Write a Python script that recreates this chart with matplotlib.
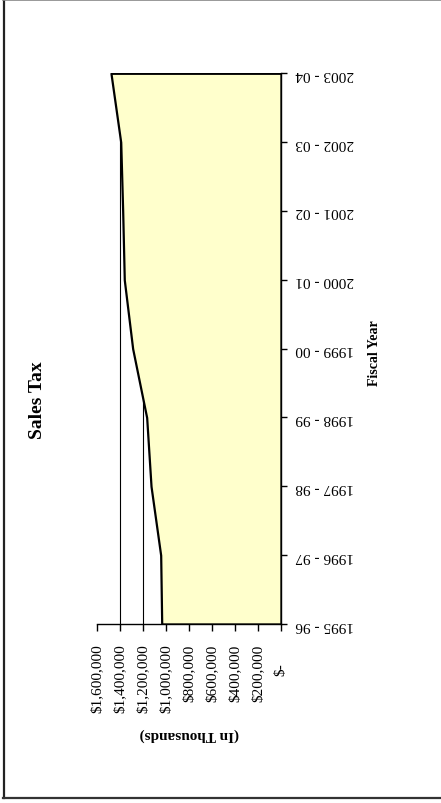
import matplotlib
matplotlib.use("Agg")
import matplotlib.pyplot as plt
from matplotlib.lines import Line2D
from matplotlib.transforms import ScaledTranslation
import numpy as np

plt.rcParams['font.family'] = ['Liberation Serif', 'DejaVu Serif']

fiscal_years = ["1995 - 96", "1996 - 97", "1997 - 98", "1998 - 99", "1999 - 00",
                "2000 - 01", "2001 - 02", "2002 - 03", "2003 - 04"]
sales_tax = [1039000, 1048000, 1132000, 1170000, 1292000,
             1365000, 1379000, 1396000, 1481000]
value_ticks = [0, 200000, 400000, 600000, 800000, 1000000, 1200000, 1400000, 1600000]
value_tick_labels = ["$-", "$200,000", "$400,000", "$600,000", "$800,000",
                     "$1,000,000", "$1,200,000", "$1,400,000", "$1,600,000"]

W, H = 441, 804
fig = plt.figure(figsize=(W / 100, H / 100), dpi=100)
fig.patch.set_facecolor('white')

ax_l, ax_r, ax_t, ax_b = 97.3, 281, 74.3, 625
ax = fig.add_axes([ax_l / W, 1 - ax_b / H, (ax_r - ax_l) / W, (ax_b - ax_t) / H])

idx = np.arange(len(fiscal_years))

# gridlines (behind area)
for v in value_ticks[1:-1]:
    ax.axvline(v, color='black', lw=0.8, zorder=1)

ax.fill_betweenx(idx, 0, sales_tax, facecolor='#FFFFCC', edgecolor='black',
                 lw=1.6, zorder=2)

ax.set_xlim(1600000, 0)
ax.set_ylim(0, len(fiscal_years) - 1)

for s in ['top', 'left']:
    ax.spines[s].set_visible(False)
ax.spines['bottom'].set_linewidth(1.0)
ax.spines['right'].set_linewidth(1.0)
ax.spines['bottom'].set_zorder(3)
ax.spines['right'].set_zorder(3)

ax.set_xticks(value_ticks)
ax.set_xticklabels(value_tick_labels, rotation=90, fontsize=11, va='top', ha='center')
ax.tick_params(axis='x', direction='out', length=5, width=1, pad=9)

ax.yaxis.tick_right()
ax.set_yticks(idx)
ax.set_yticklabels(fiscal_years, rotation=180, fontsize=11, va='center', ha='left')
ax.tick_params(axis='y', direction='out', length=4, width=1, pad=6)

ax.set_facecolor('none')

# "$-" label carries trailing accounting padding in the original
for lab in ax.get_xticklabels():
    if lab.get_text() == "$-":
        lab.set_transform(lab.get_transform() + ScaledTranslation(0, -19 / 100, fig.dpi_scale_trans))

fig.text(37 / W, 1 - 400 / H, "Sales Tax", rotation=90, fontsize=14, fontweight='bold',
         ha='center', va='center')
fig.text(374 / W, 1 - 353 / H, "Fiscal Year", rotation=90, fontsize=10, fontweight='bold',
         ha='center', va='center')
fig.text(189 / W, 1 - 735 / H, "(In Thousands)", rotation=180, fontsize=11, fontweight='bold',
         ha='center', va='center')

# outer frame (left, top, bottom)
fig.add_artist(Line2D([3.5 / W, 3.5 / W], [1 - 0.5 / H, 1 - 799 / H], transform=fig.transFigure,
                      color='#222222', lw=1.6))
fig.add_artist(Line2D([3 / W, 1], [1 - 0.8 / H, 1 - 0.8 / H], transform=fig.transFigure,
                      color='#888888', lw=1.2))
fig.add_artist(Line2D([3 / W, 1], [1 - 799 / H, 1 - 799 / H], transform=fig.transFigure,
                      color='#333333', lw=1.6))

fig.savefig("out.png", dpi=100)
